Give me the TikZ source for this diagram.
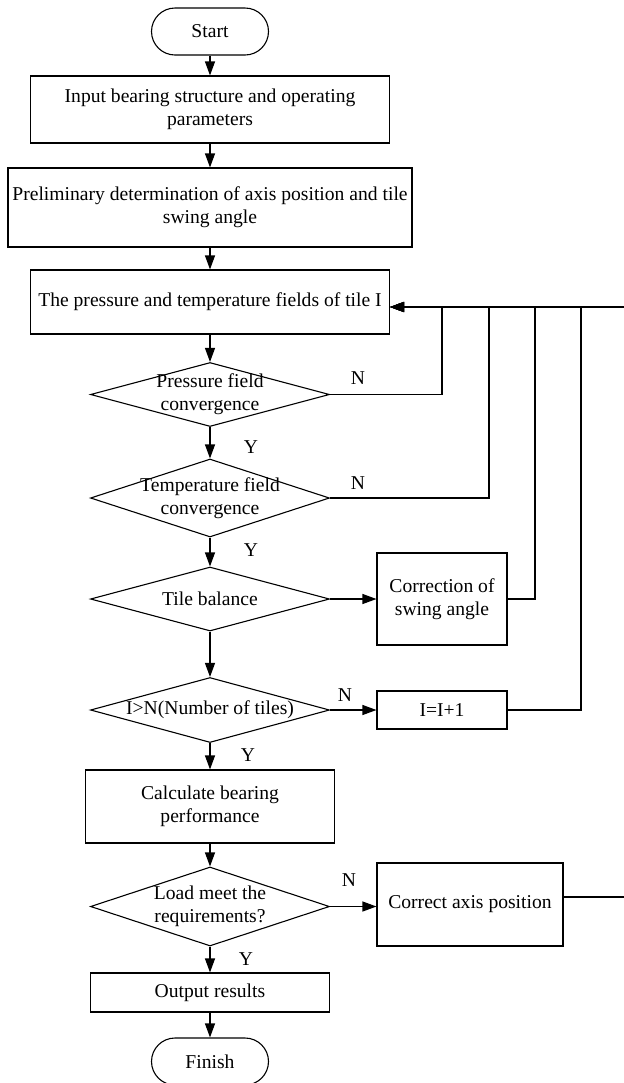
\documentclass[tikz,border=0pt]{standalone}
\usepackage{fontspec}
\setmainfont{Liberation Serif}
\usetikzlibrary{shapes.geometric,arrows.meta}
\tikzset{
  box/.style={draw, rectangle, inner sep=0pt, align=center},
  term/.style={draw, rectangle, rounded corners=11.75pt, minimum width=58.5pt, minimum height=23.5pt, inner sep=0pt},
  decision/.style={draw, diamond, minimum width=119.5pt, inner sep=0pt},
  lbl/.style={inner sep=0pt}
}

\begin{document}
\begin{tikzpicture}[x=1pt,y=-1pt,line width=0.55pt,>={Triangle[length=7pt,width=5pt]},font=\fontsize{9.8pt}{11.3pt}\selectfont]
\useasboundingbox (0,0) rectangle (311.5,541.5);
% main column
\node[term] (start) at (105,15.75) {Start};
\node[box,minimum width=179.5pt,minimum height=33.5pt] (input) at (105,54.75) {Input bearing structure and operating\\parameters};
\node[box,minimum width=202pt,minimum height=39.5pt] (prelim) at (105,103.75) {Preliminary determination of axis position and tile\\swing angle};
\node[box,minimum width=179.5pt,minimum height=32pt] (field) at (105,151) {The pressure and temperature fields of tile I};
\node[decision,minimum height=32pt,label={[align=center]center:{Pressure field\\convergence}}] (press) at (105,197.25) {};
\node[decision,minimum height=39pt,label={[align=center]center:{Temperature field\\convergence}}] (temp) at (105,249) {};
\node[decision,minimum height=32pt,label={center:Tile balance}] (bal) at (105,299.5) {};
\node[decision,minimum height=32.5pt,label={center:I>N(Number of tiles)}] (count) at (105,355) {};
\node[box,minimum width=124.5pt,minimum height=36.5pt] (calc) at (105,403.25) {Calculate bearing\\performance};
\node[decision,minimum height=39.5pt,label={[align=center]center:{Load meet the\\requirements?}}] (load) at (105,453.25) {};
\node[box,minimum width=119.5pt,minimum height=19.5pt] (out) at (105,496.25) {Output results};
\node[term] (finish) at (105,530.75) {Finish};
% side boxes
\node[box,minimum width=65pt,minimum height=46pt] (corr) at (221,299.5) {Correction of\\swing angle};
\node[box,minimum width=65pt,minimum height=19pt] (inc) at (221,355) {I=I+1};
\node[box,minimum width=93pt,minimum height=41.5pt] (axis) at (235,452.25) {Correct axis position};
% return points
\coordinate (fin) at ([yshift=-2.5pt]field.east);
\coordinate (up1) at (221,153.5);
\coordinate (up2) at (244.5,153.5);
\coordinate (up3) at (267.5,153.5);
\coordinate (up4) at (290.5,153.5);
\coordinate (up5) at (314,153.5);
\coordinate (edge) at (314,448.5);
% labels
\node[lbl] (n1) at (179,189) {N};
\node[lbl] (n2) at (179,241.5) {N};
\node[lbl] (n3) at (172.5,347.5) {N};
\node[lbl] (n4) at (174.5,440) {N};
\node[lbl] (y1) at (125.5,223.5) {Y};
\node[lbl] (y2) at (125.5,275) {Y};
\node[lbl] (y3) at (124,377.5) {Y};
\node[lbl] (y4) at (123,479.5) {Y};
% connectors
\draw[->] (start) -- (input);
\draw[->] (input) -- (prelim);
\draw[->] (prelim) -- (field);
\draw[->] (field) -- (press);
\draw[->] (press) -- (temp);
\draw[->] (temp) -- (bal);
\draw[->] (bal) -- (count);
\draw[->] (count) -- (calc);
\draw[->] (calc) -- (load);
\draw[->] (load) -- (out);
\draw[->] (out) -- (finish);
\draw[->] (bal.east) -- (bal.east -| corr.west);
\draw[->] (count.east) -- (count.east -| inc.west);
\draw[->] (load.east) -- (load.east -| axis.west);
\draw[->] (press.east) -| (up1) -- (fin);
\draw[->] (temp.east) -| (up2) -- (fin);
\draw[->] (corr.east) -| (up3) -- (fin);
\draw[->] (inc.east) -| (up4) -- (fin);
\draw[->] ([yshift=3.75pt]axis.east) -- (edge) -- (up5) -- (fin);
\end{tikzpicture}
\end{document}
